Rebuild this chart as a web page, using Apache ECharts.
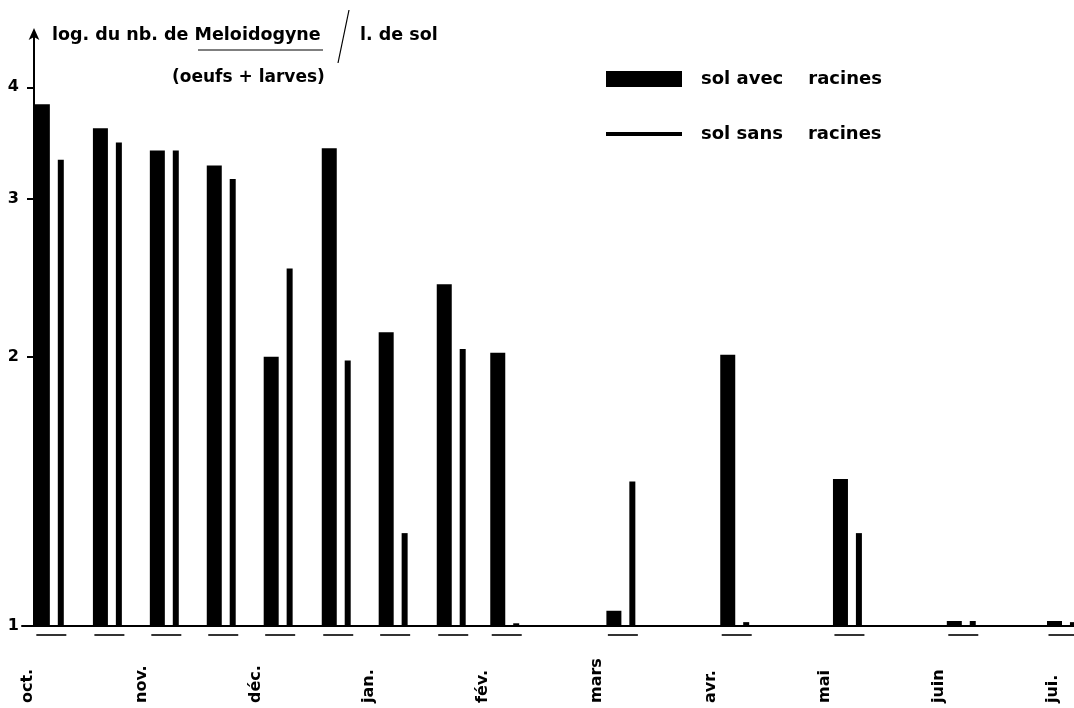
<!DOCTYPE html>
<html lang="fr">
<head>
<meta charset="utf-8">
<title>Meloidogyne - sol avec / sans racines</title>
<script src="https://cdn.jsdelivr.net/npm/echarts@6/dist/echarts.min.js"></script>
<style>html,body{margin:0;background:#fff;}</style>
</head>
<body>
<div id="main" style="width:1074px;height:708px;"></div>
<script>
// mois (etiquettes de l'axe des x)
var months = ['oct.', 'nov.', 'déc.', 'jan.', 'fév.', 'mars', 'avr.', 'mai', 'juin', 'jui.'];
// dates des prelevements, en mois depuis debut octobre
var sampleMonth = [0.19, 0.70, 1.20, 1.70, 2.20, 2.71, 3.21, 3.72, 4.19, 5.21, 6.21, 7.20, 8.20, 9.08];
// log. du nb. de Meloidogyne / l. de sol
var avecRacines = [3.83, 3.60, 3.40, 3.27, 2.00, 3.42, 2.13, 2.41, 2.02, 1.04, 2.01, 1.46, 1.013, 1.013];
var sansRacines = [3.32, 3.47, 3.40, 3.16, 2.51, 1.98, 1.27, 2.04, 1.007, 1.45, 1.01, 1.27, 1.013, 1.01];
var yTicks = [1, 2, 3, 4];

var FONT = 'DejaVu Sans';

function pairs(vals) {
    return sampleMonth.map(function (m, i) { return [m, vals[i]]; });
}

var myChart = echarts.init(document.getElementById('main'));

var option = {
    backgroundColor: '#fff',
    animation: false,
    grid: { left: 22, right: 0, top: 33, bottom: 82 },
    xAxis: {
        type: 'value',
        min: -0.05,
        max: 9.19,
        splitLine: { show: false },
        axisTick: { show: false },
        axisLine: { lineStyle: { color: '#000', width: 2 } },
        axisLabel: {
            customValues: months.map(function (m, i) { return i; }),
            formatter: function (v) { return months[Math.round(v)]; },
            rotate: 90,
            align: 'left',
            verticalAlign: 'middle',
            margin: 77,
            color: '#000',
            fontFamily: FONT,
            fontWeight: 'bold',
            fontSize: 16
        }
    },
    yAxis: {
        type: 'log',
        logBase: 10,
        min: 1,
        max: 4.6,
        offset: -12,
        splitLine: { show: false },
        axisLine: {
            onZero: false,
            symbol: ['none', 'arrow'],
            symbolSize: [8, 12],
            symbolOffset: [0, 5],
            lineStyle: { color: '#000', width: 2 }
        },
        axisTick: {
            customValues: yTicks,
            length: 7,
            lineStyle: { color: '#000', width: 2 }
        },
        axisLabel: {
            customValues: yTicks,
            margin: 15,
            color: '#000',
            fontFamily: FONT,
            fontWeight: 'bold',
            fontSize: 16
        }
    },
    legend: [{
        data: ['sol avec racines'],
        left: 606, top: 70,
        padding: 0,
        icon: 'rect',
        itemWidth: 76, itemHeight: 16,
        formatter: function (n) { return n.replace(' racines', '    racines'); },
        textStyle: { color: '#000', fontFamily: FONT, fontWeight: 'bold', fontSize: 18, padding: [0, 0, 0, 14] }
    }, {
        data: ['sol sans racines'],
        left: 606, top: 125,
        padding: 0,
        icon: 'rect',
        itemWidth: 76, itemHeight: 4,
        formatter: function (n) { return n.replace(' racines', '    racines'); },
        textStyle: { color: '#000', fontFamily: FONT, fontWeight: 'bold', fontSize: 18, padding: [0, 0, 0, 14] }
    }],
    graphic: [
        { type: 'text', left: 52, top: 26, style: { text: 'log. du nb. de Meloidogyne', fill: '#000', font: 'bold 17.5px "DejaVu Sans"' } },
        { type: 'line', shape: { x1: 198, y1: 50, x2: 323, y2: 50 }, style: { stroke: '#000', lineWidth: 1.2 } },
        { type: 'line', shape: { x1: 349, y1: 10, x2: 338, y2: 63 }, style: { stroke: '#000', lineWidth: 1.2 } },
        { type: 'text', left: 360, top: 26, style: { text: 'l. de sol', fill: '#000', font: 'bold 17.5px "DejaVu Sans"' } },
        { type: 'text', left: 172, top: 69, style: { text: '(oeufs + larves)', fill: '#000', font: 'bold 17px "DejaVu Sans"' } }
    ],
    series: [{
        name: 'sol avec racines',
        type: 'bar',
        barWidth: 15,
        barGap: '53%',
        itemStyle: { color: '#000' },
        data: pairs(avecRacines)
    }, {
        name: 'sol sans racines',
        type: 'bar',
        barWidth: 6,
        barGap: '53%',
        itemStyle: { color: '#000' },
        data: pairs(sansRacines)
    }, {
        name: 'prelevement',
        type: 'scatter',
        symbol: 'rect',
        symbolSize: [30, 2],
        symbolOffset: [2, 9],
        clip: false,
        itemStyle: { color: '#000' },
        data: sampleMonth.map(function (m) { return [m, 1]; })
    }]
};

myChart.setOption(option);
</script>
</body>
</html>
